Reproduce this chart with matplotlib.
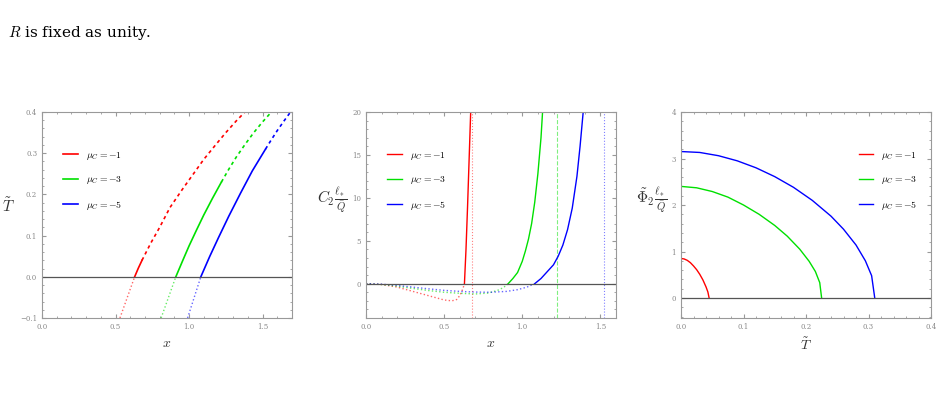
import matplotlib
matplotlib.use("Agg")
import matplotlib.pyplot as plt

plt.rcParams["mathtext.fontset"] = "cm"
plt.rcParams["font.family"] = "DejaVu Serif"

labels = [r"$\mu_C=-1$", r"$\mu_C=-3$", r"$\mu_C=-5$"]
colors = ["#ff0000", "#00e000", "#0000ff"]

# panel 1: T vs x, (dotted, solid, dashed) segments
t_dot = [([0.53, 0.58, 0.63], [-0.10, -0.05, 0.0]),
         ([0.81, 0.86, 0.91], [-0.10, -0.05, 0.0]),
         ([0.99, 1.035, 1.08], [-0.10, -0.05, 0.0])]
t_sol = [([0.63, 0.655, 0.68], [0.0, 0.021, 0.04]),
         ([0.91, 0.96, 1.0, 1.05, 1.1, 1.16, 1.22], [0.0, 0.042, 0.075, 0.113, 0.150, 0.191, 0.23]),
         ([1.08, 1.14, 1.2, 1.27, 1.35, 1.43, 1.52], [0.0, 0.049, 0.095, 0.147, 0.203, 0.257, 0.31])]
t_dsh = [([0.68, 0.74, 0.8, 0.87, 0.95, 1.03, 1.1, 1.18, 1.25, 1.32, 1.38],
          [0.04, 0.082, 0.12, 0.168, 0.21, 0.25, 0.285, 0.32, 0.35, 0.378, 0.40]),
         ([1.22, 1.27, 1.32, 1.38, 1.44, 1.5, 1.56], [0.23, 0.261, 0.29, 0.321, 0.35, 0.376, 0.40]),
         ([1.52, 1.56, 1.6, 1.645, 1.69], [0.31, 0.333, 0.355, 0.378, 0.40])]

# panel 2: C2 l/Q vs x
c_dot = [([0.0, 0.1, 0.2, 0.3, 0.4, 0.45, 0.5, 0.55, 0.58, 0.6, 0.62, 0.63],
          [0.0, -0.1, -0.4, -0.9, -1.4, -1.65, -1.9, -2.0, -1.85, -1.4, -0.6, 0.0]),
         ([0.0, 0.1, 0.2, 0.3, 0.4, 0.5, 0.6, 0.7, 0.78, 0.84, 0.88, 0.91],
          [0.0, -0.1, -0.3, -0.55, -0.8, -1.0, -1.12, -1.2, -1.1, -0.8, -0.45, 0.0]),
         ([0.0, 0.1, 0.2, 0.3, 0.4, 0.5, 0.6, 0.7, 0.8, 0.9, 0.97, 1.03, 1.08],
          [0.0, -0.06, -0.2, -0.4, -0.6, -0.78, -0.9, -0.98, -1.0, -0.9, -0.7, -0.4, 0.0])]
c_sol = [([0.63, 0.64, 0.65, 0.66, 0.67], [0.0, 4.0, 9.0, 14.5, 20.0]),
         ([0.91, 0.94, 0.97, 1.0, 1.02, 1.04, 1.06, 1.08, 1.1, 1.12, 1.13],
          [0.0, 0.6, 1.3, 2.6, 3.8, 5.2, 7.0, 9.5, 12.8, 17.0, 20.0]),
         ([1.08, 1.12, 1.16, 1.2, 1.23, 1.26, 1.29, 1.32, 1.35, 1.37, 1.39],
          [0.0, 0.6, 1.4, 2.2, 3.2, 4.5, 6.3, 8.8, 12.5, 16.0, 20.0])]
c_asym = [0.68, 1.22, 1.52]
c_asym_ls = [":", "--", ":"]

# panel 3: Phi2 l/Q vs T
p_T = [[0.0, 0.005, 0.01, 0.015, 0.02, 0.025, 0.03, 0.035, 0.04, 0.043, 0.045],
       [0.0, 0.025, 0.05, 0.075, 0.1, 0.125, 0.15, 0.17, 0.19, 0.205, 0.215, 0.222, 0.225],
       [0.0, 0.03, 0.06, 0.09, 0.12, 0.15, 0.18, 0.21, 0.24, 0.26, 0.28, 0.295, 0.305, 0.31]]
p_y = [[0.85, 0.84, 0.81, 0.76, 0.69, 0.61, 0.51, 0.39, 0.24, 0.13, 0.0],
       [2.40, 2.37, 2.29, 2.17, 2.00, 1.80, 1.56, 1.33, 1.05, 0.79, 0.57, 0.33, 0.0],
       [3.15, 3.13, 3.06, 2.95, 2.80, 2.61, 2.38, 2.10, 1.76, 1.48, 1.14, 0.80, 0.48, 0.0]]

fig = plt.figure(figsize=(9.44, 4.03), dpi=100)
fig.text(8 / 944, 1 - 33 / 403, r"$R$ is fixed as unity.", fontsize=11, va="center")

W, H, B = 250 / 944, 206 / 403, 85 / 403
ax1 = fig.add_axes([42 / 944, B, W, H])
ax2 = fig.add_axes([366 / 944, B, W, H])
ax3 = fig.add_axes([681 / 944, B, W, H])

for i in range(3):
    ax1.plot(*t_dot[i], color=colors[i], ls=":", lw=1, alpha=0.6)
    ax1.plot(*t_sol[i], color=colors[i], lw=1.2, label=labels[i])
    ax1.plot(*t_dsh[i], color=colors[i], ls=(0, (2, 2)), lw=1.2)
ax1.axhline(0, color="#555555", lw=0.9)
ax1.set_xlim(0, 1.7)
ax1.set_ylim(-0.1, 0.4)
ax1.set_xticks([0, 0.5, 1.0, 1.5])
ax1.set_yticks([-0.1, 0, 0.1, 0.2, 0.3, 0.4])
ax1.set_xlabel(r"$x$", fontsize=10)
ax1.set_ylabel(r"$\tilde{T}$", fontsize=11, rotation=0, labelpad=8)
ax1.legend(loc="upper left", bbox_to_anchor=(0.05, 0.86), frameon=False, fontsize=7,
           handlelength=1.5, labelspacing=1.3)

for i in range(3):
    ax2.plot(*c_dot[i], color=colors[i], ls=":", lw=1, alpha=0.6)
    ax2.plot(*c_sol[i], color=colors[i], lw=1.0, label=labels[i])
    ax2.axvline(c_asym[i], color=colors[i], ls=c_asym_ls[i], lw=0.8, alpha=0.5)
ax2.axhline(0, color="#555555", lw=0.9)
ax2.set_xlim(0, 1.6)
ax2.set_ylim(-4, 20)
ax2.set_xticks([0, 0.5, 1.0, 1.5])
ax2.set_yticks([0, 5, 10, 15, 20])
ax2.set_xlabel(r"$x$", fontsize=10)
ax2.set_ylabel(r"$C_2\frac{\ell_*}{\bar{Q}}$", fontsize=11, rotation=0, labelpad=14)
ax2.legend(loc="upper left", bbox_to_anchor=(0.05, 0.86), frameon=False, fontsize=7,
           handlelength=1.5, labelspacing=1.3)

for i in range(3):
    ax3.plot(p_T[i], p_y[i], color=colors[i], lw=1.0, label=labels[i])
ax3.axhline(0, color="#555555", lw=0.9)
ax3.set_xlim(0, 0.4)
ax3.set_ylim(-0.43, 4)
ax3.set_xticks([0, 0.1, 0.2, 0.3, 0.4])
ax3.set_yticks([0, 1, 2, 3, 4])
ax3.set_xlabel(r"$\tilde{T}$", fontsize=10)
ax3.set_ylabel(r"$\tilde{\Phi}_2\frac{\ell_*}{\bar{Q}}$", fontsize=11, rotation=0, labelpad=14)
ax3.legend(loc="upper right", bbox_to_anchor=(0.98, 0.86), frameon=False, fontsize=7,
           handlelength=1.5, labelspacing=1.3)

for ax in (ax1, ax2, ax3):
    for s in ax.spines.values():
        s.set_color("#999999")
    ax.tick_params(labelsize=5, colors="#999999", labelcolor="#888888", direction="in",
                   length=3, top=True, right=True)
    ax.minorticks_on()
    ax.tick_params(which="minor", direction="in", length=1.5, colors="#999999",
                   top=True, right=True)
    ax.xaxis.label.set_color("#333333")
    ax.yaxis.label.set_color("#333333")

fig.savefig("out.png", dpi=100)
